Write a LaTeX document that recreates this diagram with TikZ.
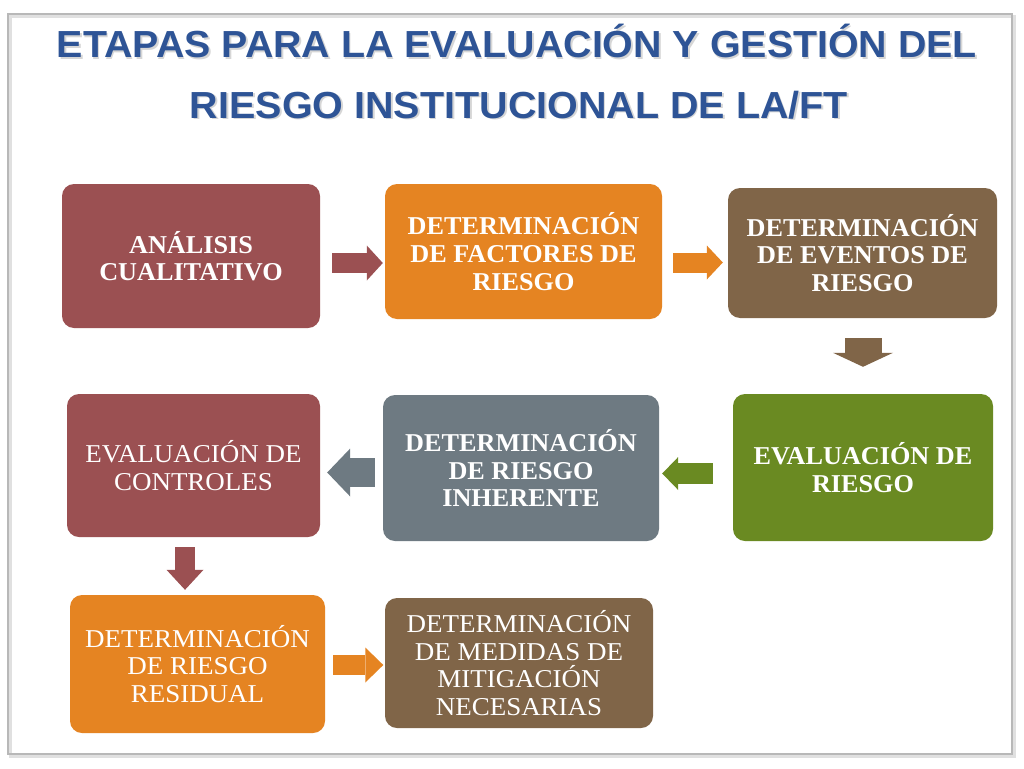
\documentclass[tikz,border=0pt]{standalone}
\usepackage{fontspec}
\setmainfont{Liberation Serif}[UprightFeatures={FakeStretch=1.05},BoldFeatures={FakeStretch=1.02}]
\newfontfamily\titlefont{Liberation Sans}
\usepackage{graphicx}
\usetikzlibrary{arrows.meta,calc}
\definecolor{cmaroon}{RGB}{155,80,82}
\definecolor{corange}{RGB}{229,132,34}
\definecolor{cbrown}{RGB}{128,101,72}
\definecolor{cgray}{RGB}{110,122,130}
\definecolor{cgreen}{RGB}{106,138,34}
\definecolor{ctitle}{RGB}{46,84,150}
\newcommand\shadowtxt[1]{\makebox[0pt][l]{\raisebox{-1.8pt}{\hspace{1.5pt}\textcolor{black!16}{#1}}}#1}
\tikzset{
 box/.style={rounded corners=12pt, inner sep=0pt, align=center, text=white,
   font=\fontsize{25.7}{27.6}\selectfont},
 boldbox/.style={box, font=\fontsize{25.7}{27.6}\selectfont\bfseries},
 barrow/.style n args={4}{draw=#1, line width=#2,
   -{Triangle[length=#4, width=#3, line width=0pt]}},
 titletxt/.style={anchor=base, inner sep=0pt, text=ctitle,
   font=\titlefont\fontsize{37.7}{40}\selectfont\bfseries},
}
\begin{document}
\begin{tikzpicture}[x=1pt,y=-1pt]
\useasboundingbox (0,0) rectangle (1024,768);
\fill[white] (0,0) rectangle (1024,768);
% frame
\draw[black!12, line width=3] (10.5,16.5) rectangle (1014.5,756.5);
\draw[black!28, line width=1.2] (8,14) rectangle (1012,754);
% title
\node[titletxt] (t1) at (517,58)
  {\resizebox{920pt}{\height}{\shadowtxt{ETAPAS PARA LA EVALUACIÓN Y GESTIÓN DEL}}};
\node[titletxt] (t2) at (519,118)
  {\resizebox{658pt}{\height}{\shadowtxt{RIESGO INSTITUCIONAL DE LA/FT}}};
% boxes
\node[boldbox, fill=cmaroon, minimum width=258pt, minimum height=144pt] (n1) at (191,256)
  {ANÁLISIS\\CUALITATIVO};
\node[boldbox, fill=corange, minimum width=277pt, minimum height=135pt] (n2) at (523.5,251.5)
  {DETERMINACIÓN\\DE FACTORES DE\\RIESGO};
\node[boldbox, fill=cbrown, minimum width=269pt, minimum height=130pt] (n3) at (862.5,253)
  {DETERMINACIÓN\\DE EVENTOS DE\\RIESGO};
\node[box, fill=cmaroon, minimum width=253pt, minimum height=143pt] (n4) at (193.5,465.5)
  {EVALUACIÓN DE\\CONTROLES};
\node[boldbox, fill=cgray, minimum width=276pt, minimum height=146pt] (n5) at (521,468)
  {DETERMINACIÓN\\DE RIESGO\\INHERENTE};
\node[boldbox, fill=cgreen, minimum width=260pt, minimum height=147pt] (n6) at (863,467.5)
  {EVALUACIÓN DE\\RIESGO};
\node[box, fill=corange, minimum width=255pt, minimum height=138pt] (n7) at (197.5,664)
  {DETERMINACIÓN\\DE RIESGO\\RESIDUAL};
\node[box, fill=cbrown, minimum width=268pt, minimum height=130pt] (n8) at (519,663)
  {DETERMINACIÓN\\DE MEDIDAS DE\\MITIGACIÓN\\NECESARIAS};
% block arrows
\draw[barrow={cmaroon}{20pt}{35pt}{16pt}] ($(n1.east)+(12,7)$) -- ($(n2.west)+(-2,11.5)$);
\draw[barrow={corange}{20pt}{34pt}{16pt}] ($(n2.east)+(11,11)$) -- ($(n3.west)+(-5,9.5)$);
\draw[barrow={cbrown}{37pt}{60pt}{14pt}] ($(n3.south)+(0.5,20)$) -- ($(n6.north)+(0,-27)$);
\draw[barrow={cgreen}{21pt}{33pt}{16pt}] ($(n6.west)+(-20,6)$) -- ($(n5.east)+(3,5.5)$);
\draw[barrow={cgray}{29pt}{48pt}{23pt}] ($(n5.west)+(-8,4.5)$) -- ($(n4.east)+(7,7)$);
\draw[barrow={cmaroon}{20pt}{37pt}{20pt}] ($(n4.south)+(-8.5,10)$) -- ($(n7.north)+(-12.5,-5)$);
\draw[barrow={corange}{20pt}{35pt}{18pt}] ($(n7.east)+(8,1)$) -- ($(n8.west)+(-1.5,2)$);
\end{tikzpicture}
\end{document}
